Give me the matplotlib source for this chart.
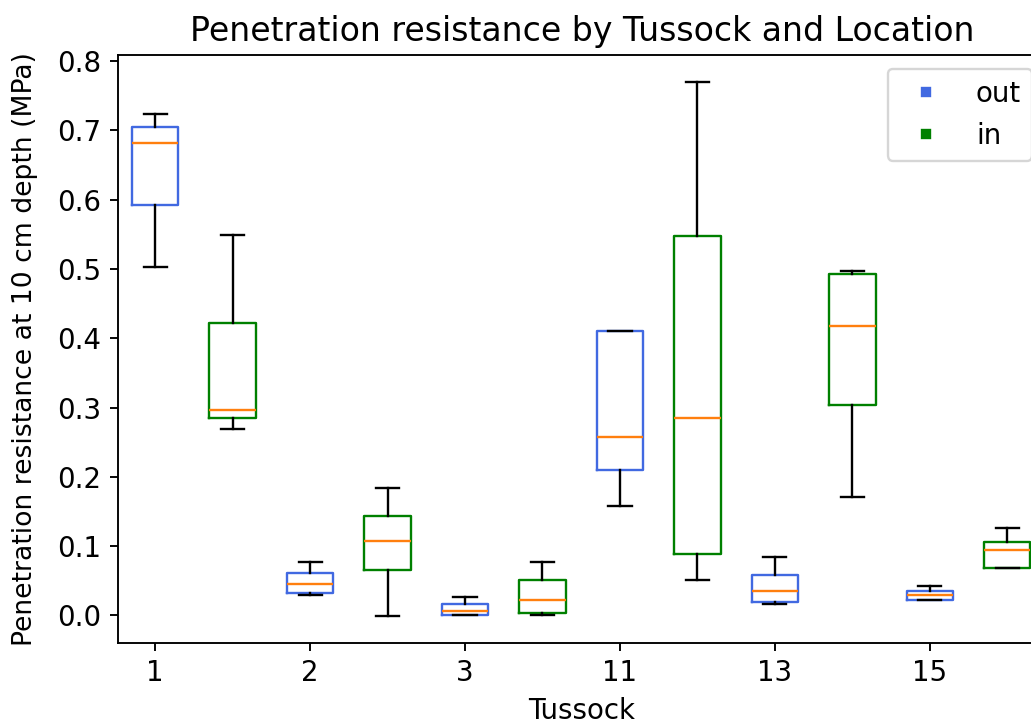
import matplotlib
matplotlib.use("Agg")
import matplotlib.pyplot as plt
from matplotlib.lines import Line2D

# tussock labels and five-number summaries (MPa) for each location
tussocks = ["1", "2", "3", "11", "13", "15"]

out_whislo = [0.503, 0.029, 0.000, 0.158, 0.017, 0.022]
out_q1     = [0.592, 0.032, 0.000, 0.210, 0.019, 0.023]
out_med    = [0.682, 0.046, 0.007, 0.257, 0.035, 0.029]
out_q3     = [0.704, 0.061, 0.017, 0.410, 0.058, 0.036]
out_whishi = [0.724, 0.077, 0.026, 0.410, 0.084, 0.042]

in_whislo = [0.269, -0.001, 0.000, 0.051, 0.171, 0.068]
in_q1     = [0.285, 0.065, 0.003, 0.088, 0.303, 0.068]
in_med    = [0.296, 0.107, 0.022, 0.285, 0.418, 0.095]
in_q3     = [0.422, 0.143, 0.051, 0.548, 0.493, 0.106]
in_whishi = [0.549, 0.184, 0.077, 0.770, 0.497, 0.126]


def make_stats(lo, q1, med, q3, hi):
    stats = []
    for a, b, c, d, e in zip(lo, q1, med, q3, hi):
        stats.append({"whislo": a, "q1": b, "med": c, "q3": d, "whishi": e, "fliers": []})
    return stats


plt.rcParams["font.size"] = 11.7
plt.rcParams["lines.linewidth"] = 1.15

fig = plt.figure(figsize=(1031 / 170, 724 / 170), dpi=170)
ax = fig.add_axes([0.1145, 0.112, 0.9, 0.812])

pos_out = [i + 1 for i in range(len(tussocks))]
pos_in = [p + 0.5 for p in pos_out]

ax.bxp(make_stats(out_whislo, out_q1, out_med, out_q3, out_whishi),
       positions=pos_out, widths=0.3, showfliers=False,
       boxprops=dict(color="royalblue"),
       medianprops=dict(color="C1"))
ax.bxp(make_stats(in_whislo, in_q1, in_med, in_q3, in_whishi),
       positions=pos_in, widths=0.3, showfliers=False,
       boxprops=dict(color="green"),
       medianprops=dict(color="C1"))

ax.set_xticks(pos_out)
ax.set_xticklabels(tussocks)
ax.set_xlim(0.76, 6.75)
ax.set_xlabel("Tussock")
ax.set_ylabel("Penetration resistance at 10 cm depth (MPa)", fontsize=11.3)
ax.yaxis.set_label_coords(-0.086, 0.5)
ax.set_title("Penetration resistance by Tussock and Location")

handles = [
    Line2D([], [], marker="s", linestyle="none", color="royalblue", markersize=3.5),
    Line2D([], [], marker="s", linestyle="none", color="green", markersize=3.5),
]
ax.legend(handles, ["out", "in"], loc="upper right")

fig.savefig("out.png", dpi=170)
